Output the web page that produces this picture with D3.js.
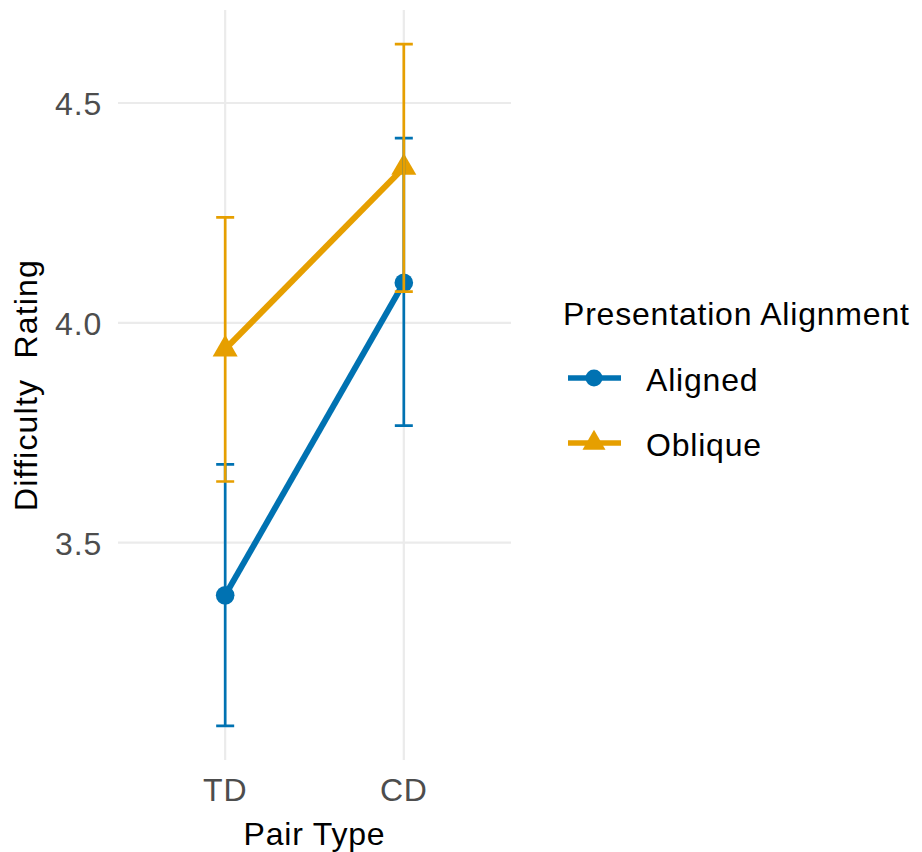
<!DOCTYPE html>
<html lang="en">
<head>
  <meta charset="UTF-8" />
  <title>Difficulty Rating by Pair Type</title>
  <style>
    body {
      margin: 0;
      background-color: white;
    }
    svg text {
      font-family: "Liberation Sans", Arial, sans-serif;
      font-size: 32px;
      letter-spacing: 0.8px;
    }
    .tick-label { fill: #4D4D4D; }
    .title { fill: #000; white-space: pre; }
  </style>
</head>
<body>
  <svg width="922" height="852"></svg>

  <script src="https://d3js.org/d3.v7.min.js"></script>
  <script>
    // data
    const pairTypes = ["TD", "CD"];
    const groups = ["Aligned", "Oblique"];
    const colors = ["#0072B2", "#E69F00"];
    const means = [
      [3.380, 4.091],   // Aligned
      [3.940, 4.353]    // Oblique
    ];
    const lower = [
      [3.083, 3.766],
      [3.639, 4.071]
    ];
    const upper = [
      [3.678, 4.420],
      [4.240, 4.634]
    ];
    const yTicks = [3.5, 4.0, 4.5];

    const panel = { left: 118, right: 511, top: 10, bottom: 760 };

    const svg = d3.select("svg");

    // discrete x, ggplot style expansion of 0.6 on both sides
    const x = d3.scaleLinear()
      .domain([0.4, pairTypes.length + 0.6])
      .range([panel.left, panel.right]);
    const xPos = i => x(i + 1);

    const allVals = lower.flat().concat(upper.flat());
    const lo = d3.min(allVals), hi = d3.max(allVals);
    const pad = (hi - lo) * 0.05;
    const y = d3.scaleLinear()
      .domain([lo - pad, hi + pad])
      .range([panel.bottom, panel.top]);

    // grid
    const grid = svg.append("g");
    grid.selectAll("line.h")
      .data(yTicks)
      .join("line")
        .attr("class", "h")
        .attr("x1", panel.left).attr("x2", panel.right)
        .attr("y1", d => y(d)).attr("y2", d => y(d))
        .attr("stroke", "#EBEBEB").attr("stroke-width", 2.2);
    grid.selectAll("line.v")
      .data(pairTypes)
      .join("line")
        .attr("class", "v")
        .attr("x1", (d, i) => xPos(i)).attr("x2", (d, i) => xPos(i))
        .attr("y1", panel.top).attr("y2", panel.bottom)
        .attr("stroke", "#EBEBEB").attr("stroke-width", 2.2);

    // axis labels
    svg.selectAll("text.ytick")
      .data(yTicks)
      .join("text")
        .attr("class", "tick-label ytick")
        .attr("x", 102)
        .attr("y", d => y(d) + 12)
        .attr("text-anchor", "end")
        .text(d => d.toFixed(1));

    svg.selectAll("text.xtick")
      .data(pairTypes)
      .join("text")
        .attr("class", "tick-label xtick")
        .attr("x", (d, i) => xPos(i))
        .attr("y", 801)
        .attr("text-anchor", "middle")
        .text(d => d);

    svg.append("text")
      .attr("class", "title")
      .attr("x", (panel.left + panel.right) / 2)
      .attr("y", 845)
      .attr("text-anchor", "middle")
      .text("Pair Type");

    svg.append("text")
      .attr("class", "title")
      .attr("transform", `translate(37,${(panel.top + panel.bottom) / 2}) rotate(-90)`)
      .attr("text-anchor", "middle")
      .style("letter-spacing", "1.2px")
      .text("Difficulty  Rating");

    const symbols = [d3.symbolCircle, d3.symbolTriangle];
    const symbolSize = [272, 271];

    const line = d3.line()
      .x((d, i) => xPos(i))
      .y(d => y(d));

    // lines
    svg.selectAll("path.series")
      .data(groups)
      .join("path")
        .attr("class", "series")
        .attr("d", (g, gi) => line(means[gi]))
        .attr("fill", "none")
        .attr("stroke", (g, gi) => colors[gi])
        .attr("stroke-width", 6);

    // points
    groups.forEach((g, gi) => {
      svg.append("g").selectAll("path")
        .data(means[gi])
        .join("path")
          .attr("transform", (d, i) => `translate(${xPos(i)},${y(d)})`)
          .attr("d", d3.symbol(symbols[gi], symbolSize[gi]))
          .attr("fill", colors[gi]);
    });

    // error bars
    const capW = 9;
    groups.forEach((g, gi) => {
      const eb = svg.append("g")
        .attr("stroke", colors[gi])
        .attr("stroke-width", 2.7)
        .attr("fill", "none");
      pairTypes.forEach((p, i) => {
        const cx = xPos(i);
        eb.append("path")
          .attr("d", `M${cx - capW},${y(upper[gi][i])}H${cx + capW}` +
                     `M${cx},${y(upper[gi][i])}V${y(lower[gi][i])}` +
                     `M${cx - capW},${y(lower[gi][i])}H${cx + capW}`);
      });
    });

    // legend
    const legend = svg.append("g").attr("transform", "translate(563,0)");
    legend.append("text")
      .attr("class", "title")
      .attr("x", 0).attr("y", 325)
      .text("Presentation Alignment");

    const keyY = [378, 443];
    groups.forEach((g, gi) => {
      const k = legend.append("g").attr("transform", `translate(0,${keyY[gi]})`);
      k.append("line")
        .attr("x1", 5).attr("x2", 58)
        .attr("stroke", colors[gi]).attr("stroke-width", 5.5);
      k.append("path")
        .attr("transform", "translate(31,0)")
        .attr("d", d3.symbol(symbols[gi], gi === 0 ? 227 : 229))
        .attr("fill", colors[gi]);
      k.append("text")
        .attr("class", "title")
        .attr("x", 83).attr("y", 13)
        .text(g);
    });
  </script>
</body>
</html>
